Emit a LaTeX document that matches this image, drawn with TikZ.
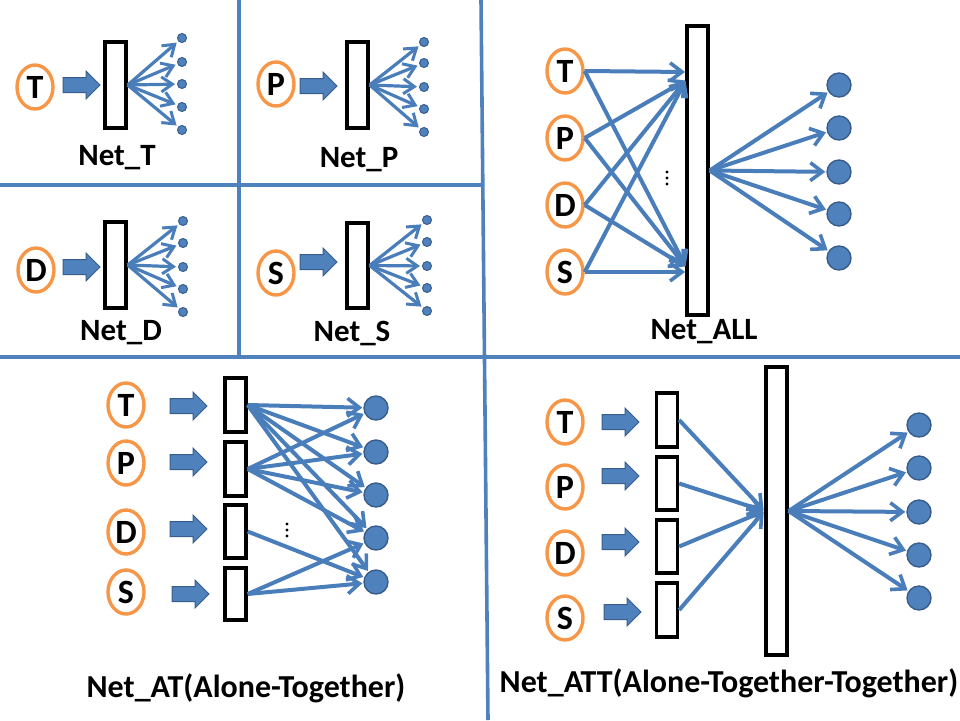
\documentclass[tikz,border=0pt]{standalone}
\usepackage{fontspec}
\setmainfont{Carlito}
\usetikzlibrary{shapes.geometric,arrows.meta}
\definecolor{orng}{HTML}{F79646}
\definecolor{lblue}{HTML}{4A7EBB}
\definecolor{fblue}{HTML}{4F81BD}
\definecolor{dblue}{HTML}{385D8A}
\tikzset{
  inp/.style={ellipse,draw=orng,line width=3.4pt,fill=white,minimum width=36pt,minimum height=44pt,inner sep=0pt,font=\bfseries\fontsize{34}{38}\selectfont},
  layer/.style={rectangle,draw=black,line width=3.4pt,fill=white,minimum width=21pt,inner sep=0pt},
  outn/.style={circle,fill=fblue,draw=dblue,line width=1.4pt,minimum size=24pt,inner sep=0pt},
  dotn/.style={circle,fill=fblue,draw=dblue,line width=1pt,minimum size=9pt,inner sep=0pt},
  conn/.style={draw=lblue,line width=4pt,-{Straight Barb[length=12pt,width=18pt,line width=3.6pt]},shorten >=1pt},
  sconn/.style={draw=lblue,line width=3.2pt,-{Straight Barb[length=11pt,width=15pt,line width=3pt]},shorten >=2pt},
  divider/.style={draw=fblue,line width=3.6pt},
  lbl/.style={font=\bfseries\fontsize{31}{36}\selectfont,inner sep=0pt},
  blbl/.style={font=\bfseries\fontsize{32}{36}\selectfont,inner sep=0pt},
  barrow/.pic={\filldraw[fill=fblue,draw=dblue,line width=1pt] (0,-7.5) -- (23,-7.5) -- (23,-14) -- (37,0) -- (23,14) -- (23,7.5) -- (0,7.5) -- cycle;},
  vdotspic/.pic={\fill[black] (0,-6) circle (1.6) (0,0) circle (1.6) (0,6) circle (1.6);},
}
\begin{document}
\begin{tikzpicture}[x=1pt,y=-1pt]
\useasboundingbox (0,0) rectangle (960,720);
% dividers
\draw[divider] (0,185) -- (481,185);
\draw[divider] (239,0) -- (239,357);
\draw[divider] (0,357) -- (960,357);
\draw[divider] (481,0) -- (488,720);

% ---------- Net_T ----------
\node[inp] (tT) at (35,87) {T};
\pic at (63,85) {barrow};
\node[layer,minimum height=86pt] (tL) at (115.5,85) {};
\foreach \i/\y in {1/38,2/62,3/84,4/107,5/130}{
  \node[dotn] (tO\i) at (182,\y) {};
  \draw[sconn] (tL.east) -- (tO\i);
}
\node[lbl] (labT) at (117,158) {Net\_T};

% ---------- Net_P ----------
\node[inp] (pP) at (276,84) {P};
\pic at (300,86) {barrow};
\node[layer,minimum height=86pt] (pL) at (357.5,85) {};
\foreach \i/\y in {1/42,2/63,3/87,4/109,5/132}{
  \node[dotn] (pO\i) at (424,\y) {};
  \draw[sconn] (pL.east) -- (pO\i);
}
\node[lbl] (labP) at (359,160) {Net\_P};

% ---------- Net_D ----------
\node[inp] (dD) at (36,270) {D};
\pic at (63,267) {barrow};
\node[layer,minimum height=86pt] (dL) at (115.5,265) {};
\foreach \i/\y in {1/221,2/243,3/267,4/289,5/312}{
  \node[dotn] (dO\i) at (183,\y) {};
  \draw[sconn] (dL.east) -- (dO\i);
}
\node[lbl] (labD) at (121,333) {Net\_D};

% ---------- Net_S ----------
\node[inp] (sS) at (276,273) {S};
\pic at (300,262) {barrow};
\node[layer,minimum height=85pt] (sL) at (357.5,265.5) {};
\foreach \i/\y in {1/220,2/242,3/266,4/288,5/311}{
  \node[dotn] (sO\i) at (427,\y) {};
  \draw[sconn] (sL.east) -- (sO\i);
}
\node[lbl] (labS) at (352,333) {Net\_S};

% ---------- Net_ALL ----------
\node[layer,minimum height=289pt] (aL) at (697.5,170.5) {};
\node[inp] (aT) at (565,71) {T};
\node[inp] (aP) at (565,138) {P};
\node[inp] (aD) at (565,205) {D};
\node[inp] (aS) at (565,272) {S};
\coordinate (aTop) at (686,80);
\coordinate (aTopT) at (686,72);
\coordinate (aBot) at (686,267);
\coordinate (aBotS) at (686,272);
\draw[conn] (aT.east) -- (aTopT);
\draw[conn] (aT.east) -- (aBot);
\draw[conn] (aP.east) -- (aTop);
\draw[conn] (aP.east) -- (aBot);
\draw[conn] (aD.east) -- (aTop);
\draw[conn] (aD.east) -- (aBot);
\draw[conn] (aS.east) -- (aTop);
\draw[conn] (aS.east) -- (aBotS);
\pic at (667,178) {vdotspic};
\foreach \i/\y in {1/85,2/128,3/172,4/214,5/258}{
  \node[outn] (aO\i) at (839,\y) {};
  \draw[conn] (aL.east) -- (aO\i);
}
\node[lbl] (labA) at (704,332) {Net\_ALL};

% ---------- Net_AT ----------
\node[inp] (bT) at (126,405) {T};
\node[inp] (bP) at (126,463) {P};
\node[inp] (bD) at (126,532) {D};
\node[inp] (bS) at (126,592) {S};
\pic at (170,406) {barrow};
\pic at (170,462) {barrow};
\pic at (170,529) {barrow};
\pic at (172,594) {barrow};
\node[layer,minimum height=54pt] (bLT) at (235.5,405) {};
\node[layer,minimum height=54pt] (bLP) at (235.5,469) {};
\node[layer,minimum height=53pt] (bLD) at (235.5,531.5) {};
\node[layer,minimum height=52pt] (bLS) at (235.5,594) {};
\foreach \i/\y in {1/408,2/452,3/495,4/538,5/582}{
  \node[outn] (bO\i) at (376,\y) {};
}
\foreach \j in {1,2,3,4,5}{\draw[conn] (bLT.east) -- (bO\j);}
\foreach \j in {1,2,3,4}{\draw[conn] (bLP.east) -- (bO\j);}
\draw[conn] (bLD.east) -- (bO5);
\draw[conn] (bLS.east) -- (bO4);
\draw[conn] (bLS.east) -- (bO5);
\pic at (287,530) {vdotspic};
\node[blbl] (labB) at (246,688) {Net\_AT(Alone-Together)};

% ---------- Net_ATT ----------
\node[inp] (cT) at (565,422) {T};
\node[inp] (cP) at (565,487) {P};
\node[inp] (cD) at (565,553) {D};
\node[inp] (cS) at (565,618) {S};
\pic at (602,422) {barrow};
\pic at (602,476) {barrow};
\pic at (602,542) {barrow};
\pic at (604,612) {barrow};
\node[layer,minimum height=54pt] (cLT) at (667,420) {};
\node[layer,minimum height=53pt] (cLP) at (667,483.5) {};
\node[layer,minimum height=53pt] (cLD) at (667,546.5) {};
\node[layer,minimum height=54pt] (cLS) at (667,610) {};
\node[layer,minimum height=288pt] (cBig) at (776.5,511) {};
\foreach \n in {cLT,cLP,cLD,cLS}{\draw[conn] (\n.east) -- (cBig.west);}
\foreach \i/\y in {1/425,2/468,3/512,4/555,5/598}{
  \node[outn] (cO\i) at (919,\y) {};
  \draw[conn] (cBig.east) -- (cO\i);
}
\node[blbl] (labC) at (729,683) {Net\_ATT(Alone-Together-Together)};
\end{tikzpicture}
\end{document}
